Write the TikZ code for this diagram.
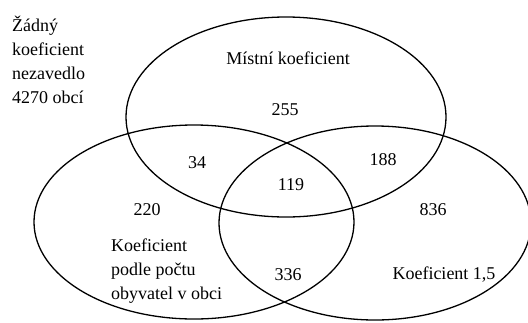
\documentclass[tikz,border=0pt]{standalone}
\usepackage{fontspec}
\setmainfont{Liberation Serif}
\usetikzlibrary{positioning}

\begin{document}
\begin{tikzpicture}[x=1pt, y=-1pt, every node/.style={inner sep=0pt, font=\fontsize{18}{24}\selectfont}, set/.style={draw, line width=1.3pt}]
  \useasboundingbox (0,0) rectangle (528,322);
  \coordinate (M) at (286,117);
  \coordinate (P) at (194,222);
  \coordinate (K) at (375,223);
  % the three sets
  \draw[set] (M) ellipse [x radius=160pt, y radius=100pt];
  \draw[set] (P) ellipse [x radius=160pt, y radius=97pt];
  \draw[set] (K) ellipse [x radius=156pt, y radius=97pt];
  % labels
  \node[anchor=west, align=left] (none) at (12,60) {Žádný\\koeficient\\nezavedlo\\4270 obcí};
  \node (mLabel) at (288,58) {Místní koeficient};
  \node[anchor=west, align=left] (pLabel) at (111,271) {Koeficient\\podle počtu\\obyvatel v obci};
  \node (kLabel) at (444,275) {Koeficient 1,5};
  % counts
  \node (m) at (285,110) {255};
  \node (mp) at (197,163) {34};
  \node (p) at (147,210) {220};
  \node (mpk) at (291,185) {119};
  \node (mk) at (383,160) {188};
  \node (k) at (433,210) {836};
  \node (pk) at (288,275) {336};
\end{tikzpicture}
\end{document}
